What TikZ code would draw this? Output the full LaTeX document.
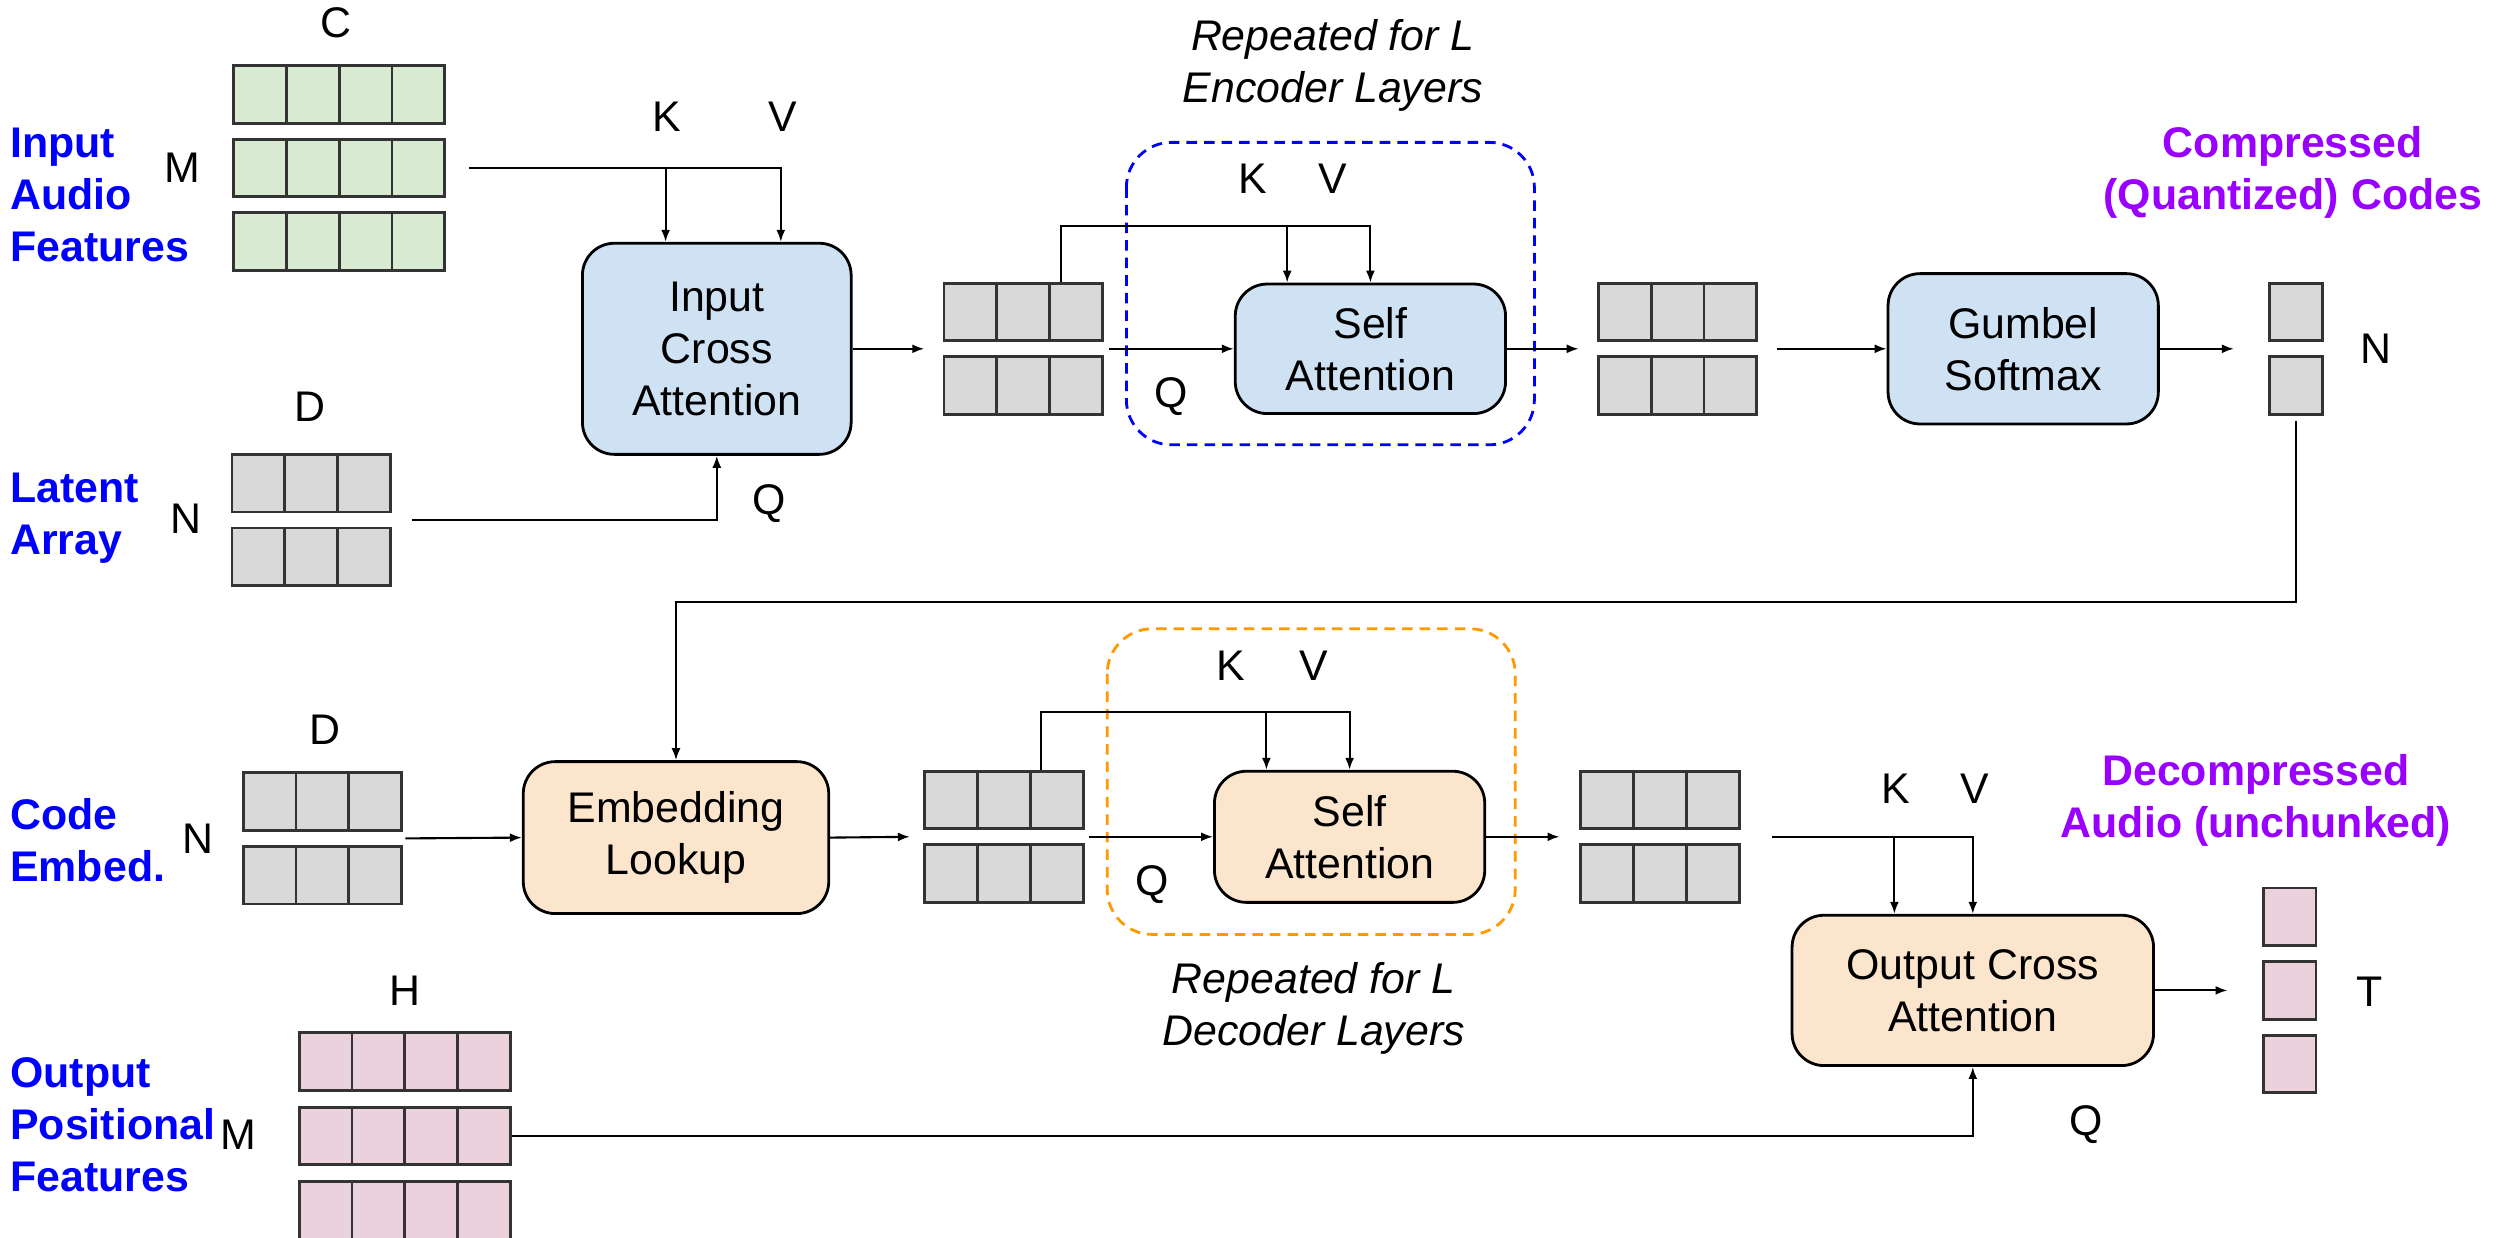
\documentclass[tikz,border=0pt]{standalone}
\usepackage{fontspec}
\setmainfont{Liberation Sans}
\usetikzlibrary{arrows.meta, calc, fit, positioning}

\definecolor{featgreen}{HTML}{D9EAD3}
\definecolor{latgray}{HTML}{D9D9D9}
\definecolor{outpink}{HTML}{EAD1DC}
\definecolor{encblue}{HTML}{CFE2F3}
\definecolor{decorange}{HTML}{FCE5CD}
\definecolor{sideblue}{HTML}{0000FF}
\definecolor{codepurple}{HTML}{9900FF}
\definecolor{dashorange}{HTML}{FF9900}

\tikzset{
  every node/.style={font=\fontsize{12.2}{14.8}\selectfont},
  cell/.style={draw=black!80, line width=0.8pt, minimum width=0.528cm,
    minimum height=0.576cm, inner sep=0pt},
  block/.style={draw=black, line width=0.8pt, rounded corners=0.32cm,
    align=center, inner sep=0pt},
  wire/.style={line width=0.6pt},
  arr/.style={wire, -{Latex[length=1.2mm,width=0.9mm]}},
  sidelbl/.style={font=\fontsize{12.2}{14.8}\selectfont\bfseries,
    text=sideblue, align=left, anchor=west, inner sep=0pt},
  codelbl/.style={font=\fontsize{12.2}{14.8}\selectfont\bfseries,
    text=codepurple, align=center},
  replbl/.style={font=\fontsize{12.2}{14.8}\selectfont\itshape, align=center},
  repbox/.style={line width=0.8pt, rounded corners=0.45cm,
    dash pattern=on 3pt off 2pt}
}

\begin{document}
\begin{tikzpicture}[x=0.016cm, y=-0.016cm]
  \useasboundingbox (0,0) rectangle (1562.5,773.75);

  % feature and latent arrays
  \foreach \i in {1,2,3}
    \foreach \j in {1,...,4}
      \node[cell, fill=featgreen] (af\i-\j) at ({129.5+33*\j},{13+46*\i}) {};
  \foreach \i in {1,2}
    \foreach \j in {1,2,3} {
      \node[cell, fill=latgray] (lat\i-\j) at ({128.5+33*\j},{256+46*\i}) {};
      \node[cell, fill=latgray] (e1-\i-\j) at ({573.5+33*\j},{149+46*\i}) {};
      \node[cell, fill=latgray] (e2-\i-\j) at ({982.5+33*\j},{149+46*\i}) {};
      \node[cell, fill=latgray] (ce\i-\j) at ({135.5+33*\j},{455+46*\i}) {};
      \node[cell, fill=latgray] (d1-\i-\j) at ({561.5+33*\j},{454+46*\i}) {};
      \node[cell, fill=latgray] (d2-\i-\j) at ({971.5+33*\j},{454+46*\i}) {};
    }
  \foreach \i in {1,2}
    \node[cell, fill=latgray] (qc\i) at (1435,{149+46*\i}) {};
  \foreach \i in {1,2,3}
    \node[cell, fill=outpink] (pc\i) at (1431,{527+46*\i}) {};
  \foreach \i in {1,2,3}
    \foreach \j in {1,...,4}
      \node[cell, fill=outpink] (pf\i-\j) at ({170.5+33*\j},{617+46.5*\i}) {};

  \node[fit=(lat1-1)(lat2-3), inner sep=0pt] (lat) {};
  \node[fit=(e1-1-1)(e1-2-3), inner sep=0pt] (e1) {};
  \node[fit=(e2-1-1)(e2-2-3), inner sep=0pt] (e2) {};
  \node[fit=(qc1)(qc2), inner sep=0pt] (qc) {};
  \node[fit=(ce1-1)(ce2-3), inner sep=0pt] (ce) {};
  \node[fit=(d1-1-1)(d1-2-3), inner sep=0pt] (d1) {};
  \node[fit=(d2-1-1)(d2-2-3), inner sep=0pt] (d2) {};
  \node[fit=(pc1)(pc3), inner sep=0pt] (pc) {};

  % repeated layers
  \draw[repbox, sideblue] (704,89) rectangle (959,278);
  \draw[repbox, dashorange] (692,393) rectangle (947,584);

  % blocks
  \node[block, fill=encblue, minimum width=2.688cm, minimum height=2.112cm]
    (ica) at (448,218) {Input\\Cross\\Attention};
  \node[block, fill=encblue, minimum width=2.704cm, minimum height=1.296cm]
    (esa) at (856.5,218) {Self\\Attention};
  \node[block, fill=encblue, minimum width=2.704cm, minimum height=1.504cm]
    (gum) at (1264.5,218) {Gumbel\\Softmax};
  \node[block, fill=decorange, minimum width=3.056cm, minimum height=1.52cm]
    (emb) at (422.5,523.5) {Embedding\\Lookup};
  \node[block, fill=decorange, minimum width=2.704cm, minimum height=1.312cm]
    (dsa) at (843.5,523) {Self\\Attention};
  \node[block, fill=decorange, minimum width=3.616cm, minimum height=1.504cm]
    (oca) at (1233,619) {Output Cross\\Attention};

  % encoder wiring
  \coordinate (ik) at ($(ica.north)+(-32,0)$);
  \coordinate (iv) at ($(ica.north)+(40,0)$);
  \draw[arr] ($(af2-4.east)+(14,0)$) -| (iv);
  \draw[arr] (ik |- af2-4.east) -- (ik);
  \draw[arr] ($(lat.east)+(12,0)$) -| (ica.south);
  \draw[arr] (ica.east) -- ($(e1.west)+(-11,0)$);
  \draw[arr] ($(e1.east)+(3,0)$) -- (esa.west);
  \coordinate (ekv) at (0,141);
  \coordinate (ek) at ($(esa.north)+(-52,0)$);
  \draw[arr] ($(e1-1-3.north west)+(8,0)$) |- (ekv -| esa.north) -- (esa.north);
  \draw[arr] (ekv -| ek) -- (ek);
  \draw[arr] (esa.east) -- ($(e2.west)+(-11,0)$);
  \draw[arr] ($(e2.east)+(11,0)$) -- (gum.west);
  \draw[arr] (gum.east) -- ($(qc.west)+(-21,0)$);
  \coordinate (back) at (0,376);
  \draw[arr] ($(qc.south)+(0,3)$) |- (back -| emb.north) -- (emb.north);

  % decoder wiring
  \draw[arr] ($(ce.east)+(1,0)$) -- (emb.west);
  \draw[arr] (emb.east) -- ($(d1.west)+(-8,0)$);
  \draw[arr] ($(d1.east)+(2,0)$) -- (dsa.west);
  \coordinate (dkv) at (0,445);
  \coordinate (dk) at ($(dsa.north)+(-52,0)$);
  \draw[arr] ($(d1-1-3.north west)+(7.5,0)$) |- (dkv -| dsa.north) -- (dsa.north);
  \draw[arr] (dkv -| dk) -- (dk);
  \draw[arr] (dsa.east) -- ($(d2.west)+(-12,0)$);
  \coordinate (ok) at ($(oca.north)+(-49,0)$);
  \draw[arr] ($(d2.east)+(19,0)$) -| (oca.north);
  \draw[arr] (ok |- d2.east) -- (ok);
  \draw[arr] (oca.east) -- ($(pc.west)+(-21,0)$);
  \draw[arr] (pf2-4.east) -| (oca.south);

  % side labels
  \node[sidelbl] (inlbl) at (6,122) {Input\\Audio\\Features};
  \node[sidelbl] (latlbl) at (6,324) {Latent\\Array};
  \node[sidelbl] (celbl) at (6,525) {Code\\Embed.};
  \node[sidelbl] (poslbl) at (6,703) {Output\\Positional\\Features};
  \node[codelbl] (cclbl) at (1433,108) {Compressed\\(Quantized) Codes};
  \node[codelbl] (dclbl) at (1410,500) {Decompressed\\Audio (unchunked)};
  \node[replbl] (enclbl) at (833,41) {Repeated for L\\Encoder Layers};
  \node[replbl] (declbl) at (821,630) {Repeated for L\\Decoder Layers};

  % dimension labels
  \node (dimC) at (210,14) {C};
  \node (dimM1) at (114,105) {M};
  \node (dimD1) at (194,254) {D};
  \node (dimN1) at (116,324) {N};
  \node (dimN2) at (1485,218) {N};
  \node (dimD2) at (203,456) {D};
  \node (dimN3) at (124,524) {N};
  \node (dimH) at (253,619) {H};
  \node (dimM2) at (149,709) {M};
  \node (dimT) at (1481,620) {T};

  % K V Q labels
  \node (k1) at (417,73) {K};
  \node (v1) at (489,73) {V};
  \node (q1) at (481,315) {Q};
  \node (k2) at (783,112) {K};
  \node (v2) at (833,112) {V};
  \node (q2) at (732,248) {Q};
  \node (k3) at (769,416) {K};
  \node (v3) at (821,416) {V};
  \node (q3) at (720,553) {Q};
  \node (k4) at (1185,493) {K};
  \node (v4) at (1234,493) {V};
  \node (q4) at (1304,703) {Q};
\end{tikzpicture}
\end{document}
